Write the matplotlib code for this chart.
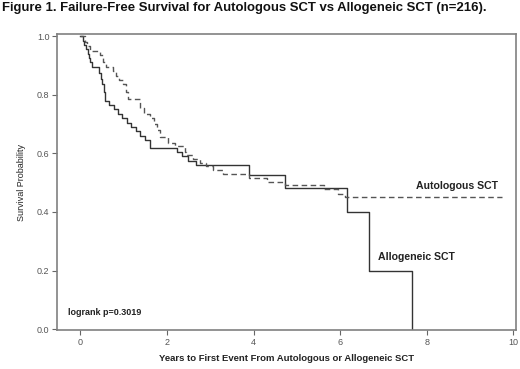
import matplotlib.pyplot as plt

# Kaplan-Meier steps (time in years, survival probability)
allo_t = [0, 0.05, 0.09, 0.13, 0.17, 0.2, 0.23, 0.26, 0.43, 0.47, 0.5, 0.54, 0.57,
          0.67, 0.77, 0.87, 0.97, 1.07, 1.18, 1.28, 1.38, 1.5, 1.6, 2.22, 2.35,
          2.48, 2.68, 3.9, 4.72, 6.15, 6.67, 7.65]
allo_s = [1.0, 0.985, 0.97, 0.955, 0.94, 0.925, 0.91, 0.893, 0.875, 0.855, 0.835,
          0.81, 0.78, 0.765, 0.75, 0.735, 0.72, 0.705, 0.69, 0.675, 0.66, 0.645,
          0.618, 0.605, 0.59, 0.575, 0.561, 0.525, 0.48, 0.40, 0.20, 0.0]

auto_t = [0, 0.1, 0.15, 0.22, 0.45, 0.52, 0.6, 0.75, 0.82, 0.9, 0.98, 1.05, 1.1,
          1.37, 1.48, 1.6, 1.7, 1.78, 1.84, 2.02, 2.18, 2.41, 2.45, 2.6, 2.76,
          2.91, 3.06, 3.29, 3.9, 4.3, 4.72, 5.62, 5.95, 6.1, 9.73]
auto_s = [1.0, 0.98, 0.965, 0.95, 0.935, 0.91, 0.895, 0.88, 0.865, 0.85, 0.835,
          0.81, 0.785, 0.755, 0.735, 0.72, 0.7, 0.68, 0.655, 0.636, 0.624, 0.605,
          0.595, 0.582, 0.568, 0.555, 0.544, 0.53, 0.515, 0.503, 0.493, 0.478,
          0.46, 0.451, 0.451]

x_ticks = [0, 2, 4, 6, 8, 10]
y_ticks = [0.0, 0.2, 0.4, 0.6, 0.8, 1.0]

plt.rcParams['font.family'] = ['Liberation Sans', 'DejaVu Sans']

fig = plt.figure(figsize=(5.2, 3.69), dpi=100)
fig.patch.set_facecolor('white')
ax = fig.add_axes([0.1096, 0.1057, 0.8827, 0.802])

ax.step(allo_t, allo_s, where='post', color='#333333', lw=1.0)
ax.step(auto_t, auto_s, where='post', color='#555555', lw=1.0, dashes=(4, 2.5))

ax.set_xlim(-0.54, 10.06)
ax.set_ylim(-0.003, 1.007)
ax.set_xticks(x_ticks, labels=[str(v) for v in x_ticks])
ax.set_yticks(y_ticks, labels=[f'{v:.1f}' for v in y_ticks])
ax.tick_params(direction='out', length=3.5, width=0.8, color='#666666',
               labelsize=6.5, labelcolor='#555555', pad=2)

for s in ax.spines.values():
    s.set_color('#808080')
    s.set_linewidth(1.2)

ax.set_xlabel('Years to First Event From Autologous or Allogeneic SCT',
              fontsize=6.8, fontweight='bold', color='#222222', labelpad=5)
ax.set_ylabel('Survival Probability', fontsize=6.5, color='#222222', labelpad=8)

ax.text(9.64, 0.49, 'Autologous SCT', fontsize=7.6, fontweight='bold',
        color='#222222', ha='right', va='center')
ax.text(6.87, 0.247, 'Allogeneic SCT', fontsize=7.6, fontweight='bold',
        color='#222222', ha='left', va='center')
ax.text(-0.29, 0.058, 'logrank p=0.3019', fontsize=6.5, fontweight='bold',
        color='#222222', ha='left', va='center')

fig.text(0.004, 0.978, 'Figure 1. Failure-Free Survival for Autologous SCT vs Allogeneic SCT (n=216).',
         fontsize=9.45, fontweight='bold', ha='left', va='center', color='#111111')

fig.savefig('out.png', dpi=100)
